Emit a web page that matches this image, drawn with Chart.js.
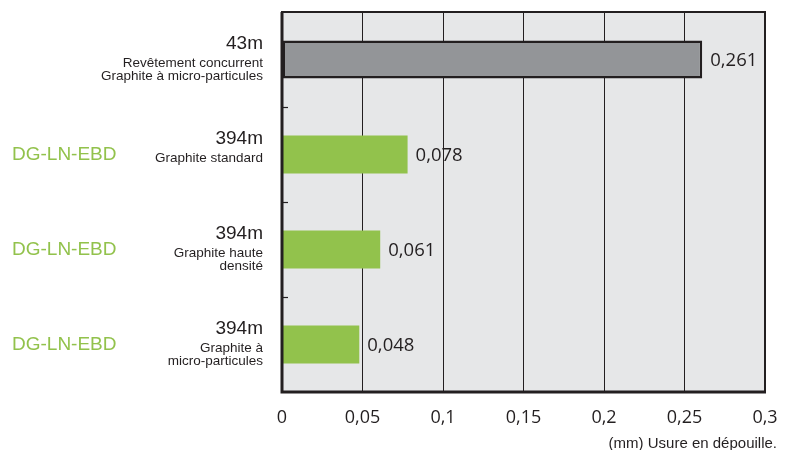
<!DOCTYPE html>
<html>
<head>
<meta charset="utf-8">
<script src="https://cdn.jsdelivr.net/npm/chart.js@4"></script>
<style>
  html, body { margin: 0; padding: 0; background: #fff; }
  #wrap { width: 788px; height: 450px; }
</style>
</head>
<body>
<div id="wrap"><canvas id="wearChart"></canvas></div>
<script>
// data
const brands = ['', 'DG-LN-EBD', 'DG-LN-EBD', 'DG-LN-EBD'];
const lengths = ['43m', '394m', '394m', '394m'];
const grades = [
  ['Revêtement concurrent', 'Graphite à micro-particules'],
  ['Graphite standard'],
  ['Graphite haute', 'densité'],
  ['Graphite à', 'micro-particules']
];
const wear = [0.261, 0.078, 0.061, 0.048];
const xTicks = [0, 0.05, 0.1, 0.15, 0.2, 0.25, 0.3];
const axisTitle = '(mm) Usure en dépouille.';

const GREY = '#939598';
const GREEN = '#92c24c';
const INK = '#231f20';

const fmt = v => String(Math.round(v * 1000) / 1000).replace('.', ',');

const decor = {
  id: 'decor',
  beforeDraw(chart) {
    const { ctx, chartArea: a } = chart;
    ctx.save();
    ctx.fillStyle = '#e6e7e8';
    ctx.fillRect(a.left, a.top, a.right - a.left, a.bottom - a.top);
    ctx.restore();
  },
  afterDraw(chart) {
    const { ctx, chartArea: a } = chart;
    const y = chart.scales.y;
    ctx.save();
    // frame
    ctx.strokeStyle = INK;
    ctx.lineWidth = 2;
    ctx.strokeRect(a.left, a.top, a.right - a.left, a.bottom - a.top);
    ctx.lineWidth = 3;
    ctx.beginPath();
    ctx.moveTo(a.left, a.top);
    ctx.lineTo(a.left, a.bottom);
    ctx.lineTo(a.right + 1, a.bottom);
    ctx.stroke();

    // small ticks between categories
    ctx.lineWidth = 1.2;
    for (let i = 0; i < lengths.length - 1; i++) {
      const yy = Math.round((y.getPixelForValue(i) + y.getPixelForValue(i + 1)) / 2) + 0.5;
      ctx.beginPath();
      ctx.moveTo(a.left, yy);
      ctx.lineTo(a.left + 6, yy);
      ctx.stroke();
    }

    // category labels
    const rx = a.left - 19;
    lengths.forEach((len, i) => {
      const cy = y.getPixelForValue(i);
      ctx.textAlign = 'right';
      ctx.textBaseline = 'middle';
      ctx.fillStyle = INK;
      ctx.font = '19px "Liberation Sans", Arial, sans-serif';
      let ly = cy - 16;
      ctx.fillText(len, rx, ly);
      ly += 20;
      ctx.font = '13.5px "Liberation Sans", Arial, sans-serif';
      grades[i].forEach(line => {
        ctx.fillText(line, rx, ly);
        ly += 13;
      });
      if (brands[i]) {
        ctx.textAlign = 'left';
        ctx.fillStyle = GREEN;
        ctx.font = '19px "Liberation Sans", Arial, sans-serif';
        ctx.fillText(brands[i], 12, cy);
      }
    });

    // value labels
    const meta = chart.getDatasetMeta(0);
    ctx.fillStyle = INK;
    ctx.textAlign = 'left';
    ctx.textBaseline = 'middle';
    ctx.font = '18.5px "Open Sans", sans-serif';
    meta.data.forEach((bar, i) => {
      ctx.fillText(fmt(wear[i]), bar.x + 8, bar.y + 1);
    });

    // axis title
    ctx.textAlign = 'right';
    ctx.textBaseline = 'middle';
    ctx.font = '15px "Liberation Sans", Arial, sans-serif';
    ctx.fillText(axisTitle, 777, 444);
    ctx.restore();
  }
};

new Chart(document.getElementById('wearChart'), {
  type: 'bar',
  data: {
    labels: lengths,
    datasets: [{
      data: wear,
      backgroundColor: [GREY, GREEN, GREEN, GREEN],
      borderColor: INK,
      borderWidth: [2.5, 0, 0, 0],
      borderSkipped: false,
      categoryPercentage: 1,
      barPercentage: 0.4
    }]
  },
  options: {
    indexAxis: 'y',
    responsive: true,
    maintainAspectRatio: false,
    animation: false,
    layout: { padding: { top: 12, right: 23, left: 0, bottom: 0 } },
    plugins: {
      legend: { display: false },
      tooltip: { enabled: false }
    },
    scales: {
      x: {
        min: 0,
        max: 0.3,
        afterBuildTicks: s => { s.ticks = xTicks.map(v => ({ value: v })); },
        afterFit: s => {
          s.height = 58;
          s.paddingLeft = 0;
          s.paddingRight = 0;
        },
        grid: { color: INK, lineWidth: 1, drawTicks: false },
        border: { display: false },
        ticks: {
          padding: 15,
          color: INK,
          font: { family: 'Open Sans', size: 18 },
          callback: v => fmt(v)
        }
      },
      y: {
        afterFit: s => { s.width = 282; },
        grid: { display: false },
        border: { display: false },
        ticks: { display: false }
      }
    }
  },
  plugins: [decor]
});
</script>
</body>
</html>
